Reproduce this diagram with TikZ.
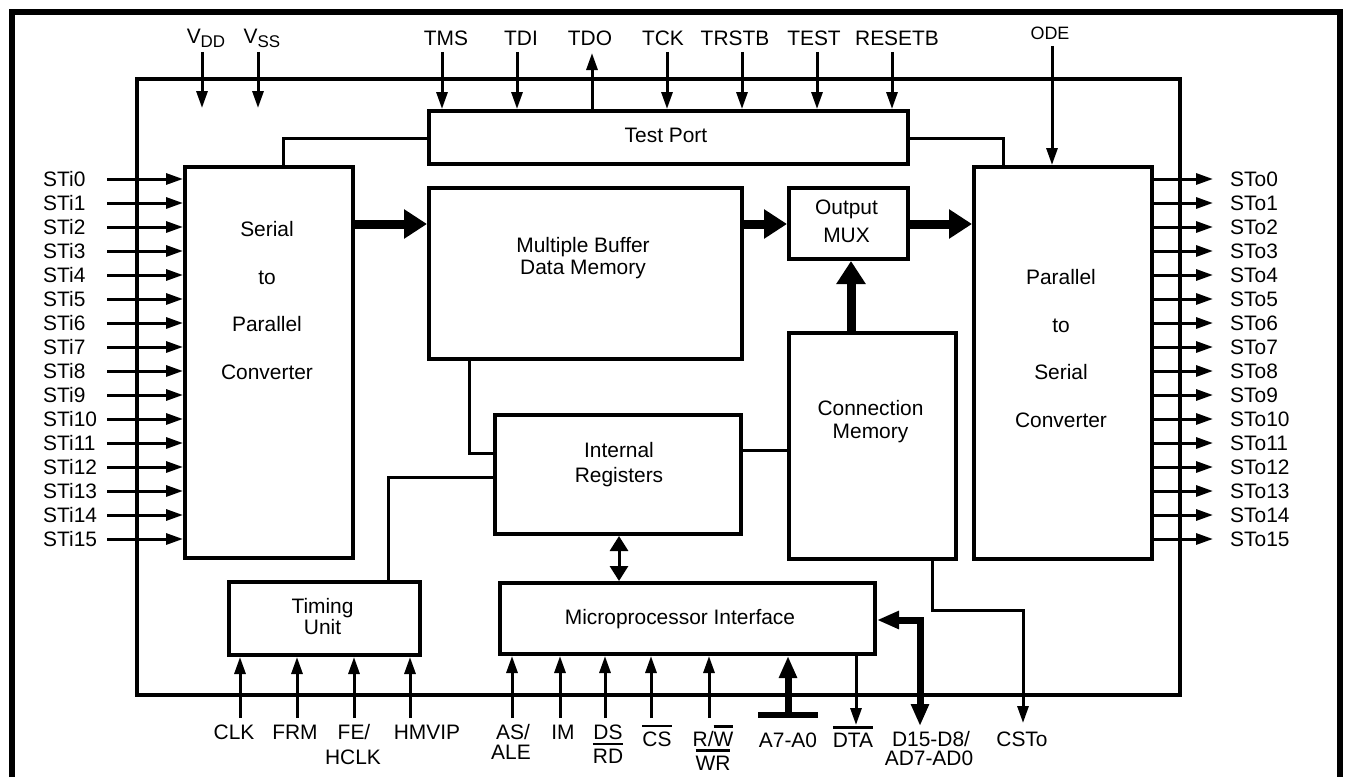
\documentclass[tikz,border=0pt]{standalone}
\usepackage{fontspec}
\setmainfont{Liberation Sans}
\usetikzlibrary{arrows.meta}
\newcommand\ovl[1]{\leavevmode\vbox{\hrule height 2.2bp\kern 4bp\hbox{#1}}}
\newcommand\pinsub[1]{\raisebox{-4bp}{\fontsize{17}{17}\selectfont #1}}
\begin{document}
\begin{tikzpicture}[x=1bp,y=-1bp,
  blk/.style={draw, line width=4bp, inner sep=0, anchor=north west},
  txt/.style={inner sep=0, align=center, font=\fontsize{21}{23}\selectfont},
  lbl/.style={inner sep=0, font=\fontsize{21}{23}\selectfont},
  wire/.style={line width=3bp},
  pin/.style={line width=3bp, -{Triangle[length=17bp,width=11bp]}},
  dbl/.style={line width=3bp, {Triangle[length=15bp,width=18bp]}-{Triangle[length=15bp,width=18bp]}},
  bus/.style={line width=9bp, -{Triangle[length=23bp,width=28bp]}},
  abus/.style={line width=7bp, line join=miter},
  atip/.tip={Triangle[length=22bp,width=17bp]}
]
\useasboundingbox (0,0) rectangle (1346,777);
% outer frame
\draw[line width=6bp] (12,777) -- (12,12) -- (1340,12) -- (1340,777);
% chip outline and blocks
\node[blk, minimum width=1043bp, minimum height=616bp] (chip) at (135,77) {};
\node[blk, minimum width=168bp, minimum height=391bp] (sp) at (183,165) {};
\node[blk, minimum width=479bp, minimum height=53bp] (tp) at (427,109) {};
\node[blk, minimum width=313bp, minimum height=171bp] (mbdm) at (427,186) {};
\node[blk, minimum width=119bp, minimum height=71bp] (mux) at (787,186) {};
\node[blk, minimum width=178bp, minimum height=392bp] (ps) at (972,165) {};
\node[blk, minimum width=167bp, minimum height=226bp] (cm) at (787,331) {};
\node[blk, minimum width=246bp, minimum height=119bp] (ir) at (493,413) {};
\node[blk, minimum width=375bp, minimum height=71bp] (mi) at (498,581) {};
\node[blk, minimum width=191bp, minimum height=73bp] (tu) at (227,580) {};
% block texts
\node[txt] (tpT) at (666,135.5) {Test Port};
\node[txt, font=\fontsize{21}{22.5}\selectfont] (mbdmT) at (583,258) {Multiple Buffer\\Data Memory};
\node[txt, font=\fontsize{21}{28}\selectfont] (muxT) at (846.5,221) {Output\\MUX};
\node[txt, font=\fontsize{21}{47.7}\selectfont] (spT) at (267,300.5) {Serial\\to\\Parallel\\Converter};
\node[txt, font=\fontsize{21}{47.7}\selectfont] (psT) at (1061,348.5) {Parallel\\to\\Serial\\Converter};
\node[txt, font=\fontsize{21}{23}\selectfont] (cmT) at (870.5,422) {Connection\\Memory};
\node[txt, font=\fontsize{21}{25}\selectfont] (irT) at (619,465) {Internal\\Registers};
\node[txt] (miT) at (680,619) {Microprocessor Interface};
\node[txt, font=\fontsize{21}{19}\selectfont] (tuT) at (322.5,616.5) {Timing\\Unit};
% wide data buses
\draw[bus] (sp.east |- 0,224) -- (mbdm.west |- 0,224);
\draw[bus] (mbdm.east |- 0,224) -- (mux.west |- 0,224);
\draw[bus] (mux.east |- 0,224) -- (ps.west |- 0,224);
\draw[bus] (cm.north -| 851,0) -- (mux.south -| 851,0);
% internal wires
\draw[wire] (tp.west |- 0,138) -| (sp.north -| 283,0);
\draw[wire] (tp.east |- 0,138) -| (ps.north -| 1003,0);
\draw[wire] (mbdm.south -| 469,0) |- (ir.west |- 0,453);
\draw[wire] (ir.west |- 0,477) -| (tu.north -| 388,0);
\draw[wire] (ir.east |- 0,450) -- (cm.west |- 0,450);
\draw[dbl] (ir.south -| 619,0) -- (mi.north -| 619,0);
% top pins
\node[lbl, anchor=base] (lVDD) at (206,44) {V\pinsub{DD}};
\node[lbl, anchor=base] (lVSS) at (262,44) {V\pinsub{SS}};
\coordinate (cVDD) at (202,52); \coordinate (eVDD) at (202,108);
\coordinate (cVSS) at (258,52); \coordinate (eVSS) at (258,108);
\draw[pin] (cVDD) -- (eVDD);
\draw[pin] (cVSS) -- (eVSS);
\foreach \x/\lx/\n in {442/446/TMS,517/521/TDI,667/663/TCK,742/735/TRSTB,817/814/TEST,892/897/RESETB}{
  \node[lbl, anchor=base] (l\n) at (\lx,46) {\n};
  \coordinate (c\n) at (\x,52);
  \draw[pin] (c\n) -- (tp.north -| \x,0);
}
\node[lbl, anchor=base] (lTDO) at (590,46) {TDO};
\coordinate (cTDO) at (592,53);
\draw[pin] (tp.north -| 592,0) -- (cTDO);
\node[lbl, anchor=base, font=\fontsize{18}{20}\selectfont] (lODE) at (1050,39.5) {ODE};
\coordinate (cODE) at (1052,46);
\draw[pin] (cODE) -- (ps.north -| 1052,0);
% serial inputs and outputs
\foreach \i in {0,...,15}{
  \pgfmathsetmacro\yy{179+24*\i}
  \node[lbl, anchor=base west] (lsti\i) at (43,\yy+7.5) {STi\i};
  \coordinate (csti\i) at (107,\yy);
  \draw[pin] (csti\i) -- (sp.west |- 0,\yy);
  \node[lbl, anchor=base west] (lsto\i) at (1230,\yy+7.5) {STo\i};
  \coordinate (csto\i) at (1213,\yy);
  \draw[pin] (ps.east |- 0,\yy) -- (csto\i);
}
% timing unit pins
\foreach \x in {240,297,354,410}{
  \coordinate (ct\x) at (\x,718);
  \draw[pin] (ct\x) -- (tu.south -| \x,0);
}
\node[lbl, anchor=base] (lCLK) at (234,739.5) {CLK};
\node[lbl, anchor=base] (lFRM) at (295,739.5) {FRM};
\node[lbl, anchor=base] (lFE) at (354,739.5) {FE/};
\node[lbl, anchor=base] (lHCLK) at (353,764.5) {HCLK};
\node[lbl, anchor=base] (lHMVIP) at (427,739.5) {HMVIP};
% microprocessor pins
\foreach \x in {512,560,605,651,709}{
  \coordinate (cm\x) at (\x,718);
  \draw[pin] (cm\x) -- (mi.south -| \x,0);
}
\node[lbl, anchor=base] (lAS) at (513,739.5) {AS/};
\node[lbl, anchor=base] (lALE) at (511,759.5) {ALE};
\node[lbl, anchor=base] (lIM) at (563,739.5) {IM};
\node[lbl, anchor=base] (lDS) at (608,739.5) {DS};
\node[lbl, anchor=base] (lRD) at (608,763.5) {\ovl{RD}};
\node[lbl, anchor=base] (lCS) at (657,746) {\ovl{CS}};
\node[lbl, anchor=base] (lRW) at (713,746) {R/\ovl{W}};
\node[lbl, anchor=base] (lWR) at (713,770) {\ovl{WR}};
% address bus
\coordinate (cA) at (788,715);
\coordinate (cAl) at (758,715); \coordinate (cAr) at (818,715);
\draw[abus, -atip] (cA) -- (mi.south -| 788,0);
\draw[line width=6bp] (cAl) -- (cAr);
\node[lbl, anchor=base] (lA) at (788,747) {A7-A0};
% DTA
\coordinate (cDTA) at (856,725);
\draw[pin] (mi.south -| 856,0) -- (cDTA);
\node[lbl, anchor=base] (lDTA) at (853,747) {\ovl{DTA}};
% data bus
\coordinate (cD) at (920,726);
\draw[abus, atip-atip] (cD) |- (mi.east |- 0,620);
\node[lbl, anchor=base] (lD1) at (931,746) {D15-D8/};
\node[lbl, anchor=base] (lD2) at (929,765) {AD7-AD0};
% CSTo
\coordinate (cCST) at (1023,723);
\draw[pin] (cm.south -| 932,0) |- (1023,610) -- (cCST);
\node[lbl, anchor=base] (lCST) at (1022,746) {CSTo};
\end{tikzpicture}
\end{document}
